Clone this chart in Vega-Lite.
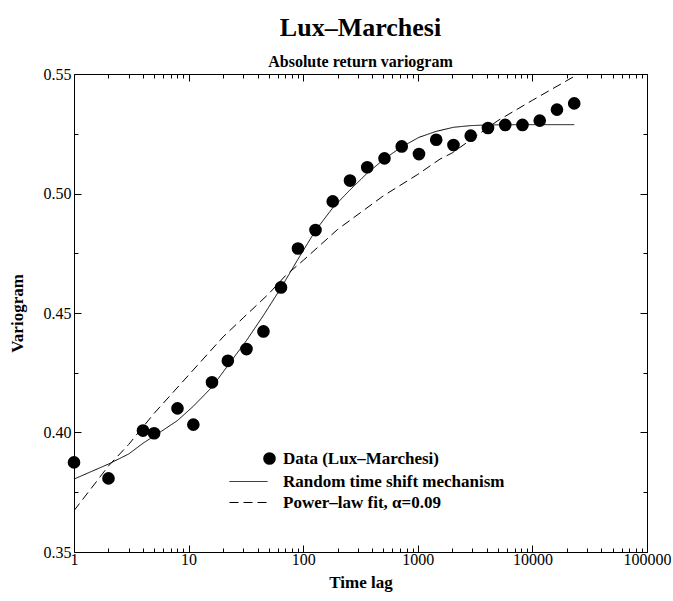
{
  "$schema": "https://vega.github.io/schema/vega-lite/v6.json",
  "width": 573,
  "height": 478,
  "padding": {"left": 8, "top": 15, "right": 0, "bottom": 8},
  "background": "white",
  "title": {
    "text": "Lux–Marchesi",
    "subtitle": "Absolute return variogram",
    "anchor": "middle",
    "font": "Liberation Serif",
    "fontSize": 26,
    "fontWeight": "bold",
    "color": "black",
    "subtitleFont": "Liberation Serif",
    "subtitleFontSize": 16,
    "subtitleFontWeight": "bold",
    "subtitleColor": "black",
    "subtitlePadding": 13,
    "offset": -4
  },
  "config": {
    "view": {"stroke": null},
    "axis": {
      "domainColor": "black",
      "domainWidth": 1,
      "tickColor": "black",
      "tickWidth": 1,
      "labelFont": "Liberation Serif",
      "labelFontSize": 16,
      "labelColor": "black",
      "titleFont": "Liberation Serif",
      "titleFontSize": 17,
      "titleFontWeight": "bold",
      "titleColor": "black",
      "grid": false,
      "labelFlush": false,
      "labelOverlap": false
    },
    "legend": {
      "labelFont": "Liberation Serif",
      "labelFontSize": 17,
      "labelFontWeight": "bold",
      "labelColor": "black",
      "labelLimit": 500,
      "padding": 0
    }
  },
  "datasets": {
    "points": [
      {"t": 1, "v": 0.3875, "series": "Data (Lux–Marchesi)"},
      {"t": 2, "v": 0.3808, "series": "Data (Lux–Marchesi)"},
      {"t": 4, "v": 0.4008, "series": "Data (Lux–Marchesi)"},
      {"t": 5, "v": 0.3997, "series": "Data (Lux–Marchesi)"},
      {"t": 8, "v": 0.4101, "series": "Data (Lux–Marchesi)"},
      {"t": 11, "v": 0.4033, "series": "Data (Lux–Marchesi)"},
      {"t": 16, "v": 0.421, "series": "Data (Lux–Marchesi)"},
      {"t": 22, "v": 0.43, "series": "Data (Lux–Marchesi)"},
      {"t": 32, "v": 0.4349, "series": "Data (Lux–Marchesi)"},
      {"t": 45, "v": 0.4423, "series": "Data (Lux–Marchesi)"},
      {"t": 64, "v": 0.4607, "series": "Data (Lux–Marchesi)"},
      {"t": 90, "v": 0.477, "series": "Data (Lux–Marchesi)"},
      {"t": 128, "v": 0.4847, "series": "Data (Lux–Marchesi)"},
      {"t": 181, "v": 0.4967, "series": "Data (Lux–Marchesi)"},
      {"t": 256, "v": 0.5054, "series": "Data (Lux–Marchesi)"},
      {"t": 362, "v": 0.511, "series": "Data (Lux–Marchesi)"},
      {"t": 512, "v": 0.5147, "series": "Data (Lux–Marchesi)"},
      {"t": 724, "v": 0.5197, "series": "Data (Lux–Marchesi)"},
      {"t": 1024, "v": 0.5165, "series": "Data (Lux–Marchesi)"},
      {"t": 1448, "v": 0.5225, "series": "Data (Lux–Marchesi)"},
      {"t": 2048, "v": 0.5203, "series": "Data (Lux–Marchesi)"},
      {"t": 2896, "v": 0.5242, "series": "Data (Lux–Marchesi)"},
      {"t": 4096, "v": 0.5274, "series": "Data (Lux–Marchesi)"},
      {"t": 5793, "v": 0.5287, "series": "Data (Lux–Marchesi)"},
      {"t": 8192, "v": 0.5287, "series": "Data (Lux–Marchesi)"},
      {"t": 11585, "v": 0.5305, "series": "Data (Lux–Marchesi)"},
      {"t": 16384, "v": 0.5351, "series": "Data (Lux–Marchesi)"},
      {"t": 23170, "v": 0.5377, "series": "Data (Lux–Marchesi)"}
    ],
    "lines": [
      {"t": 1, "v": 0.3805, "series": "Random time shift mechanism"},
      {"t": 2, "v": 0.3868, "series": "Random time shift mechanism"},
      {"t": 3, "v": 0.391, "series": "Random time shift mechanism"},
      {"t": 4, "v": 0.3955, "series": "Random time shift mechanism"},
      {"t": 6, "v": 0.401, "series": "Random time shift mechanism"},
      {"t": 8, "v": 0.405, "series": "Random time shift mechanism"},
      {"t": 11, "v": 0.411, "series": "Random time shift mechanism"},
      {"t": 16, "v": 0.419, "series": "Random time shift mechanism"},
      {"t": 22, "v": 0.428, "series": "Random time shift mechanism"},
      {"t": 32, "v": 0.4385, "series": "Random time shift mechanism"},
      {"t": 45, "v": 0.449, "series": "Random time shift mechanism"},
      {"t": 64, "v": 0.4605, "series": "Random time shift mechanism"},
      {"t": 90, "v": 0.4725, "series": "Random time shift mechanism"},
      {"t": 128, "v": 0.4845, "series": "Random time shift mechanism"},
      {"t": 181, "v": 0.494, "series": "Random time shift mechanism"},
      {"t": 256, "v": 0.5015, "series": "Random time shift mechanism"},
      {"t": 362, "v": 0.5085, "series": "Random time shift mechanism"},
      {"t": 512, "v": 0.5145, "series": "Random time shift mechanism"},
      {"t": 724, "v": 0.5195, "series": "Random time shift mechanism"},
      {"t": 1024, "v": 0.5235, "series": "Random time shift mechanism"},
      {"t": 1448, "v": 0.526, "series": "Random time shift mechanism"},
      {"t": 2048, "v": 0.5277, "series": "Random time shift mechanism"},
      {"t": 2896, "v": 0.5284, "series": "Random time shift mechanism"},
      {"t": 4096, "v": 0.5287, "series": "Random time shift mechanism"},
      {"t": 8192, "v": 0.5288, "series": "Random time shift mechanism"},
      {"t": 23170, "v": 0.5288, "series": "Random time shift mechanism"},
      {"t": 1, "v": 0.3673, "series": "Power–law fit, α=0.09"},
      {"t": 2, "v": 0.386, "series": "Power–law fit, α=0.09"},
      {"t": 3, "v": 0.395, "series": "Power–law fit, α=0.09"},
      {"t": 5, "v": 0.408, "series": "Power–law fit, α=0.09"},
      {"t": 10, "v": 0.424, "series": "Power–law fit, α=0.09"},
      {"t": 20, "v": 0.44, "series": "Power–law fit, α=0.09"},
      {"t": 30, "v": 0.448, "series": "Power–law fit, α=0.09"},
      {"t": 50, "v": 0.458, "series": "Power–law fit, α=0.09"},
      {"t": 70, "v": 0.4656, "series": "Power–law fit, α=0.09"},
      {"t": 100, "v": 0.472, "series": "Power–law fit, α=0.09"},
      {"t": 200, "v": 0.485, "series": "Power–law fit, α=0.09"},
      {"t": 500, "v": 0.499, "series": "Power–law fit, α=0.09"},
      {"t": 1000, "v": 0.508, "series": "Power–law fit, α=0.09"},
      {"t": 1563, "v": 0.5144, "series": "Power–law fit, α=0.09"},
      {"t": 2000, "v": 0.517, "series": "Power–law fit, α=0.09"},
      {"t": 5000, "v": 0.5305, "series": "Power–law fit, α=0.09"},
      {"t": 10000, "v": 0.539, "series": "Power–law fit, α=0.09"},
      {"t": 23170, "v": 0.549, "series": "Power–law fit, α=0.09"}
    ]
  },
  "resolve": {"axis": {"x": "independent", "y": "independent"}},
  "layer": [
    {
      "data": {"name": "lines"},
      "mark": {"type": "line", "color": "black", "strokeWidth": 1, "clip": true},
      "encoding": {
        "x": {
          "field": "t", "type": "quantitative",
          "scale": {"type": "log", "domain": [1, 100000], "nice": false},
          "axis": {
            "orient": "top", "title": null, "labels": false, "domain": true,
            "values": [1,2,3,4,5,6,7,8,9,10,20,30,40,50,60,70,80,90,100,200,300,400,500,600,700,800,900,1000,2000,3000,4000,5000,6000,7000,8000,9000,10000,20000,30000,40000,50000,60000,70000,80000,90000,100000],
            "tickSize": {"condition": {"test": "indexof([1,10,100,1000,10000,100000], datum.value) >= 0", "value": -7}, "value": -4}
          }
        },
        "y": {
          "field": "v", "type": "quantitative",
          "scale": {"domain": [0.35, 0.55], "nice": false, "zero": false},
          "axis": {
            "orient": "right", "title": null, "labels": false,
            "values": [0.35, 0.375, 0.4, 0.425, 0.45, 0.475, 0.5, 0.525, 0.55],
            "tickSize": {"condition": {"test": "round(datum.value*1000) % 50 == 0", "value": -7}, "value": -4}
          }
        },
        "strokeDash": {
          "field": "series", "type": "nominal",
          "scale": {"domain": ["Random time shift mechanism", "Power–law fit, α=0.09"], "range": [[1, 0], [9, 5]]},
          "legend": {
            "orient": "none", "legendX": 166, "legendY": 399, "title": null,
            "symbolType": "M-3,0H3", "symbolSize": 160, "symbolStrokeColor": "black",
            "symbolFillColor": "transparent",
            "symbolStrokeWidth": 1, "labelOffset": 26, "rowPadding": 3
          }
        }
      }
    },
    {
      "data": {"name": "points"},
      "mark": {"type": "point", "filled": true, "color": "black", "size": 160, "opacity": 1},
      "encoding": {
        "x": {
          "field": "t", "type": "quantitative",
          "axis": {
            "orient": "bottom", "title": "Time lag", "format": "d",
            "values": [1,2,3,4,5,6,7,8,9,10,20,30,40,50,60,70,80,90,100,200,300,400,500,600,700,800,900,1000,2000,3000,4000,5000,6000,7000,8000,9000,10000,20000,30000,40000,50000,60000,70000,80000,90000,100000],
            "labelExpr": "indexof([1,10,100,1000,10000,100000], datum.value) >= 0 ? datum.label : ''",
            "tickSize": {"condition": {"test": "indexof([1,10,100,1000,10000,100000], datum.value) >= 0", "value": -7}, "value": -4},
            "labelPadding": 6,
            "titlePadding": 4
          }
        },
        "y": {
          "field": "v", "type": "quantitative",
          "axis": {
            "orient": "left", "title": "Variogram", "format": ".2f",
            "values": [0.35, 0.375, 0.4, 0.425, 0.45, 0.475, 0.5, 0.525, 0.55],
            "labelExpr": "round(datum.value*1000) % 50 == 0 ? datum.label : ''",
            "tickSize": {"condition": {"test": "round(datum.value*1000) % 50 == 0", "value": -7}, "value": -4},
            "labelPadding": 10,
            "titlePadding": 17
          }
        },
        "shape": {
          "field": "series", "type": "nominal",
          "scale": {"domain": ["Data (Lux–Marchesi)"], "range": ["circle"]},
          "legend": {
            "orient": "none", "legendX": 187, "legendY": 376, "title": null,
            "symbolSize": 160, "symbolFillColor": "black", "symbolStrokeColor": "black",
            "symbolStrokeWidth": 0, "labelOffset": 5
          }
        }
      }
    }
  ]
}
